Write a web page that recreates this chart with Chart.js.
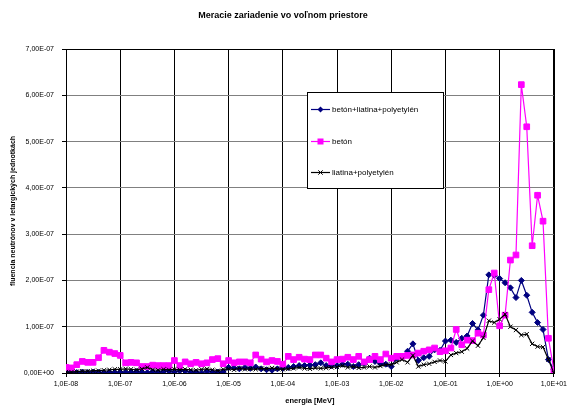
<!DOCTYPE html>
<html>
<head>
<meta charset="utf-8">
<title>Meracie zariadenie vo voľnom priestore</title>
<script src="https://cdn.jsdelivr.net/npm/chart.js@4"></script>
<style>
    html, body { margin: 0; padding: 0; background: #fff; }
    #chart { display: block; }
</style>
</head>
<body>
<canvas id="chart" width="570" height="405"></canvas>
<script>
// energy group points [MeV], 10 per decade
const energies = [
    1.0e-8, 1.26e-8, 1.58e-8, 2.0e-8, 2.51e-8, 3.16e-8, 3.98e-8, 5.01e-8, 6.31e-8, 7.94e-8,
    1.0e-7, 1.26e-7, 1.58e-7, 2.0e-7, 2.51e-7, 3.16e-7, 3.98e-7, 5.01e-7, 6.31e-7, 7.94e-7,
    1.0e-6, 1.26e-6, 1.58e-6, 2.0e-6, 2.51e-6, 3.16e-6, 3.98e-6, 5.01e-6, 6.31e-6, 7.94e-6,
    1.0e-5, 1.26e-5, 1.58e-5, 2.0e-5, 2.51e-5, 3.16e-5, 3.98e-5, 5.01e-5, 6.31e-5, 7.94e-5,
    1.0e-4, 1.26e-4, 1.58e-4, 2.0e-4, 2.51e-4, 3.16e-4, 3.98e-4, 5.01e-4, 6.31e-4, 7.94e-4,
    1.0e-3, 1.26e-3, 1.58e-3, 2.0e-3, 2.51e-3, 3.16e-3, 3.98e-3, 5.01e-3, 6.31e-3, 7.94e-3,
    1.0e-2, 1.26e-2, 1.58e-2, 2.0e-2, 2.51e-2, 3.16e-2, 3.98e-2, 5.01e-2, 6.31e-2, 7.94e-2,
    1.0e-1, 1.26e-1, 1.58e-1, 2.0e-1, 2.51e-1, 3.16e-1, 3.98e-1, 5.01e-1, 6.31e-1, 7.94e-1,
    1.0, 1.26, 1.58, 2.0, 2.51, 3.16, 3.98, 5.01, 6.31, 7.94,
    10.0
];

// fluence values, in units of 1E-08
const betonLiatinaPoly = [
    0.3, 0.2, 0.1, 0.2, 0.1, 0.2, 0.1, 0.1, 0.2, 0.1,
    0.2, 0.1, 0.2, 0.3, 0.2, 0.1, 0.3, 0.2, 0.3, 0.4,
    0.2, 0.5, 0.4, 0.2, 0.2, 0.0, 0.4, 0.2, 0.2, 0.2,
    1.2, 1.1, 0.9, 1.2, 1.0, 1.3, 0.9, 0.7, 0.6, 0.9,
    1.0, 1.2, 1.4, 1.6, 1.6, 1.7, 1.8, 2.2, 1.6, 1.6,
    1.6, 1.9, 1.9, 1.4, 1.8, 2.1, 3.2, 2.5, 2.0, 1.9,
    1.4, 3.2, 3.6, 4.7, 6.3, 2.7, 3.3, 3.6, 5.0, 4.9,
    6.9, 7.1, 6.6, 7.5, 8.0, 10.7, 9.3, 12.5, 21.2, 21.1,
    20.4, 19.5, 18.4, 16.3, 20.0, 16.8, 13.1, 10.9, 9.4, 2.9,
    0.7
];
const beton = [
    1.2, 1.1, 1.8, 2.5, 2.3, 2.3, 3.3, 4.9, 4.5, 4.2,
    3.8, 2.2, 2.3, 2.2, 1.4, 1.4, 1.7, 1.6, 1.6, 1.6,
    2.7, 1.6, 2.4, 2.0, 2.3, 2.0, 2.2, 2.9, 3.1, 2.0,
    2.7, 2.2, 2.4, 2.4, 2.2, 3.9, 3.0, 2.4, 2.7, 2.5,
    1.9, 3.6, 2.9, 3.4, 3.0, 2.9, 3.9, 3.9, 3.2, 2.4,
    2.9, 3.0, 3.4, 2.9, 3.6, 2.4, 2.9, 3.6, 2.9, 4.1,
    3.2, 3.6, 3.6, 3.8, 3.9, 4.3, 4.7, 5.0, 5.4, 4.6,
    4.8, 5.4, 9.4, 6.1, 7.1, 7.0, 8.6, 8.2, 18.0, 21.6,
    10.2, 12.5, 24.4, 25.5, 62.3, 53.2, 27.5, 38.4, 32.8, 7.5,
    0.6
];
const liatinaPoly = [
    0.2, 0.2, 0.3, 0.4, 0.4, 0.5, 0.5, 0.6, 0.7, 0.8,
    0.8, 0.9, 0.8, 0.7, 0.9, 1.2, 0.7, 0.6, 0.8, 0.7,
    0.8, 0.7, 0.8, 0.7, 0.6, 0.8, 0.9, 0.7, 0.5, 0.8,
    0.9, 0.7, 1.0, 0.8, 0.9, 0.8, 1.0, 0.9, 1.1, 0.9,
    0.8, 0.9, 1.0, 1.2, 1.0, 0.9, 1.1, 1.0, 1.1, 1.2,
    1.3, 1.6, 1.2, 1.4, 1.1, 1.2, 1.4, 1.2, 1.5, 1.8,
    1.8, 2.3, 2.9, 2.3, 3.8, 1.4, 1.8, 2.0, 2.4, 2.7,
    2.5, 3.9, 4.3, 4.6, 5.3, 6.9, 5.9, 7.6, 11.3, 10.9,
    11.6, 12.7, 10.0, 9.3, 8.2, 8.4, 6.3, 5.7, 5.6, 2.9,
    0.0
];

const seriesNames = ['betón+liatina+polyetylén', 'betón', 'liatina+polyetylén'];

const xTicks = [1e-8, 1e-7, 1e-6, 1e-5, 1e-4, 1e-3, 1e-2, 1e-1, 1, 10];
const xTickLabels = ['1,0E-08', '1,0E-07', '1,0E-06', '1,0E-05', '1,0E-04', '1,0E-03', '1,0E-02', '1,0E-01', '1,0E+00', '1,0E+01'];
const yTickLabels = ['0,00E+00', '1,00E-07', '2,00E-07', '3,00E-07', '4,00E-07', '5,00E-07', '6,00E-07', '7,00E-07'];

const FONT = "'Liberation Sans', Arial, sans-serif";
const colors = ['#000080', '#ff00ff', '#000000'];
const styles = ['rectRot', 'rect', 'crossRot'];
const radii = [3, 4, 3];

function points(vals) {
    return vals.map((v, i) => ({ x: energies[i], y: v }));
}

function makeDataset(idx, vals, order) {
    return {
        label: seriesNames[idx],
        data: points(vals),
        borderColor: colors[idx],
        backgroundColor: colors[idx],
        borderWidth: 1.2,
        pointStyle: styles[idx],
        pointRadius: radii[idx],
        pointBorderWidth: 1,
        pointBorderColor: colors[idx],
        pointBackgroundColor: colors[idx],
        tension: 0,
        order: order
    };
}

// title, frame and legend box drawn on the canvas
const decorPlugin = {
    id: 'decor',
    beforeDatasetsDraw(chart) {
        const { ctx, chartArea: a } = chart;
        ctx.save();
        ctx.strokeStyle = '#000';
        ctx.lineWidth = 1;
        ctx.strokeRect(Math.round(a.left) + 0.5, Math.round(a.top) + 0.5,
            Math.round(a.right - a.left), Math.round(a.bottom - a.top));
        ctx.restore();
    },
    afterDraw(chart) {
        const ctx = chart.ctx;
        ctx.save();
        ctx.fillStyle = '#000';
        ctx.font = 'bold 9px ' + FONT;
        ctx.textAlign = 'center';
        ctx.textBaseline = 'middle';
        ctx.fillText('Meracie zariadenie vo voľnom priestore', 283, 16);

        // legend
        const bx = 307, by = 92, bw = 136, bh = 96;
        ctx.fillStyle = '#fff';
        ctx.fillRect(bx, by, bw, bh);
        ctx.strokeStyle = '#000';
        ctx.lineWidth = 1;
        ctx.strokeRect(bx + 0.5, by + 0.5, bw, bh);
        const rows = [109, 141, 172];
        ctx.font = '8px ' + FONT;
        ctx.textAlign = 'left';
        rows.forEach((y, i) => {
            ctx.strokeStyle = colors[i];
            ctx.fillStyle = colors[i];
            ctx.lineWidth = 1.2;
            ctx.beginPath();
            ctx.moveTo(311, y + 0.5);
            ctx.lineTo(330, y + 0.5);
            ctx.stroke();
            const cx = 320.5, cy = y + 0.5;
            ctx.beginPath();
            if (styles[i] === 'rectRot') {
                ctx.moveTo(cx, cy - 3); ctx.lineTo(cx + 3, cy); ctx.lineTo(cx, cy + 3); ctx.lineTo(cx - 3, cy);
                ctx.closePath(); ctx.fill();
            } else if (styles[i] === 'rect') {
                ctx.fillRect(cx - 3, cy - 3, 6, 6);
            } else {
                ctx.lineWidth = 1;
                ctx.moveTo(cx - 2.2, cy - 2.2); ctx.lineTo(cx + 2.2, cy + 2.2);
                ctx.moveTo(cx + 2.2, cy - 2.2); ctx.lineTo(cx - 2.2, cy + 2.2);
                ctx.stroke();
            }
            ctx.fillStyle = '#000';
            ctx.fillText(seriesNames[i], 332, y + 1);
        });
        ctx.restore();
    }
};

new Chart(document.getElementById('chart'), {
    type: 'line',
    data: {
        datasets: [
            makeDataset(0, betonLiatinaPoly, 2),
            makeDataset(1, beton, 1),
            makeDataset(2, liatinaPoly, 0)
        ]
    },
    options: {
        responsive: false,
        animation: false,
        layout: { padding: { top: 49, right: 16, left: 0, bottom: 0 } },
        plugins: {
            legend: { display: false },
            tooltip: { enabled: false },
            title: { display: false }
        },
        scales: {
            x: {
                type: 'logarithmic',
                min: 1e-8,
                max: 10,
                afterBuildTicks(scale) {
                    scale.ticks = xTicks.map(v => ({ value: v }));
                },
                afterFit(scale) { scale.height = 32; },
                grid: { color: '#000', lineWidth: 1, tickLength: 4, tickColor: '#000' },
                border: { color: '#000', width: 1 },
                ticks: {
                    autoSkip: false,
                    maxRotation: 0,
                    padding: 3,
                    color: '#000',
                    font: { family: FONT, size: 7 },
                    callback: (v, i) => xTickLabels[i]
                },
                title: {
                    display: true,
                    text: 'energia [MeV]',
                    color: '#000',
                    padding: 0,
                    font: { family: FONT, size: 7.5, weight: 'bold' }
                }
            },
            y: {
                min: 0,
                max: 70,
                afterFit(scale) { scale.width = 66; },
                grid: { color: '#808080', lineWidth: 1, tickLength: 4, tickColor: '#000' },
                border: { color: '#000', width: 1 },
                ticks: {
                    stepSize: 10,
                    padding: 8,
                    color: '#000',
                    font: { family: FONT, size: 7 },
                    callback: (v, i) => yTickLabels[i]
                },
                title: {
                    display: true,
                    text: 'fluencia neutrónov v letargických jednotkách',
                    color: '#000',
                    padding: { top: 9, bottom: 0 },
                    font: { family: FONT, size: 7, weight: 'bold' }
                }
            }
        }
    },
    plugins: [decorPlugin]
});
</script>
</body>
</html>
